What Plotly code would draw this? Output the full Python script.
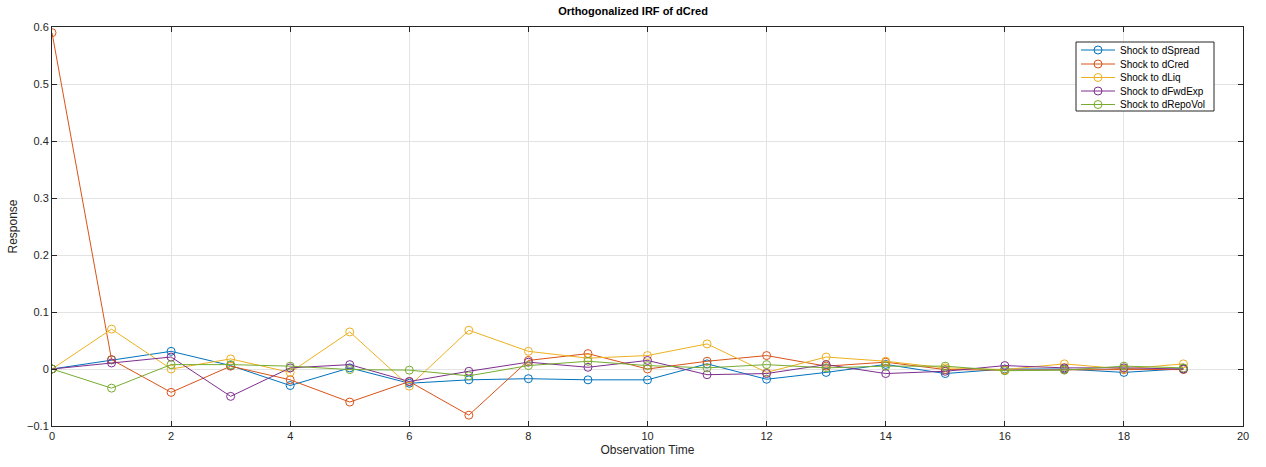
import plotly.graph_objects as go

steps = list(range(20))
shock_dspread = [0, 0.016, 0.031, 0.006, -0.029, 0.002, -0.025, -0.019, -0.017, -0.019, -0.019, 0.009, -0.018, -0.006, 0.008, -0.008, 0.0, 0.0, -0.006, 0.0005]
shock_dcred = [0.59, 0.0165, -0.041, 0.005, -0.019, -0.058, -0.022, -0.081, 0.015, 0.027, 0.0, 0.0136, 0.0236, 0.005, 0.012, -0.001, -0.002, -0.001, -0.001, -0.001]
shock_dliq = [0, 0.07, 0.0, 0.0177, -0.006, 0.065, -0.03, 0.068, 0.031, 0.019, 0.0236, 0.044, -0.006, 0.021, 0.0136, 0.002, -0.001, 0.009, 0.0, 0.009]
shock_dfwdexp = [0, 0.0106, 0.021, -0.048, 0.002, 0.0077, -0.022, -0.004, 0.012, 0.003, 0.015, -0.010, -0.008, 0.0077, -0.008, -0.004, 0.006, 0.002, 0.002, 0.0]
shock_drepovol = [0, -0.0336, 0.0077, 0.0077, 0.005, -0.001, -0.002, -0.012, 0.006, 0.0136, 0.006, 0.002, 0.0077, 0.002, 0.005, 0.005, -0.003, -0.002, 0.005, 0.002]

names = ["Shock to dSpread", "Shock to dCred", "Shock to dLiq", "Shock to dFwdExp", "Shock to dRepoVol"]
colors = ["#0072BD", "#D95319", "#EDB120", "#7E2F8E", "#77AC30"]
series = [shock_dspread, shock_dcred, shock_dliq, shock_dfwdexp, shock_drepovol]

W, H = 1266, 467
ML, MR, MT, MB = 52, 23, 27, 41
PW, PH = W - ML - MR, H - MT - MB


def px_x(p):
    return (p - ML) / PW


def px_y(p):
    return (H - MB - p) / PH


fig = go.Figure()
for name, col, ys in zip(names, colors, series):
    fig.add_trace(go.Scatter(
        x=steps, y=ys, name=name, mode="lines+markers",
        line=dict(color=col, width=1),
        marker=dict(symbol="circle-open", size=8, color=col, line=dict(width=1, color=col)),
        showlegend=False,
    ))

# compact MATLAB-style legend box
shapes = [dict(type="rect", xref="paper", yref="paper",
               x0=px_x(1076), x1=px_x(1214), y0=px_y(111), y1=px_y(42),
               line=dict(color="#262626", width=1), fillcolor="white", layer="above")]
annotations = []
row_y = [50, 64, 77.5, 91, 104.5]
for name, col, ry in zip(names, colors, row_y):
    shapes.append(dict(type="line", xref="paper", yref="paper",
                       x0=px_x(1081), x1=px_x(1115), y0=px_y(ry), y1=px_y(ry),
                       line=dict(color=col, width=1), layer="above"))
    shapes.append(dict(type="circle", xref="paper", yref="paper",
                       x0=px_x(1094), x1=px_x(1102), y0=px_y(ry + 4), y1=px_y(ry - 4),
                       line=dict(color=col, width=1), fillcolor="rgba(0,0,0,0)", layer="above"))
    annotations.append(dict(text=name, xref="paper", yref="paper",
                            x=px_x(1118), y=px_y(ry), xanchor="left", yanchor="middle",
                            showarrow=False, font=dict(size=10, color="#000000")))

axis_common = dict(
    showgrid=True, gridcolor="#e3e3e3", gridwidth=1,
    showline=True, linecolor="#262626", linewidth=1, mirror="ticks",
    ticks="inside", ticklen=5, tickcolor="#262626",
    zeroline=False, tickfont=dict(size=11, color="#262626"),
)

fig.update_layout(
    width=W, height=H,
    margin=dict(l=ML, r=MR, t=MT, b=MB),
    paper_bgcolor="white", plot_bgcolor="white",
    font=dict(family="Liberation Sans, Arial, sans-serif", color="#262626"),
    title=dict(text="<b>Orthogonalized IRF of dCred</b>", x=0.5, xanchor="center", y=0.985, yanchor="top",
               font=dict(size=11, color="#000000")),
    xaxis=dict(range=[0, 20], dtick=2, title=dict(text="Observation Time", font=dict(size=12), standoff=4), **axis_common),
    yaxis=dict(range=[-0.1, 0.6], dtick=0.1, title=dict(text="Response", font=dict(size=12), standoff=6), **axis_common),
    shapes=shapes,
    annotations=annotations,
    showlegend=False,
)

fig.write_html("out.html")
